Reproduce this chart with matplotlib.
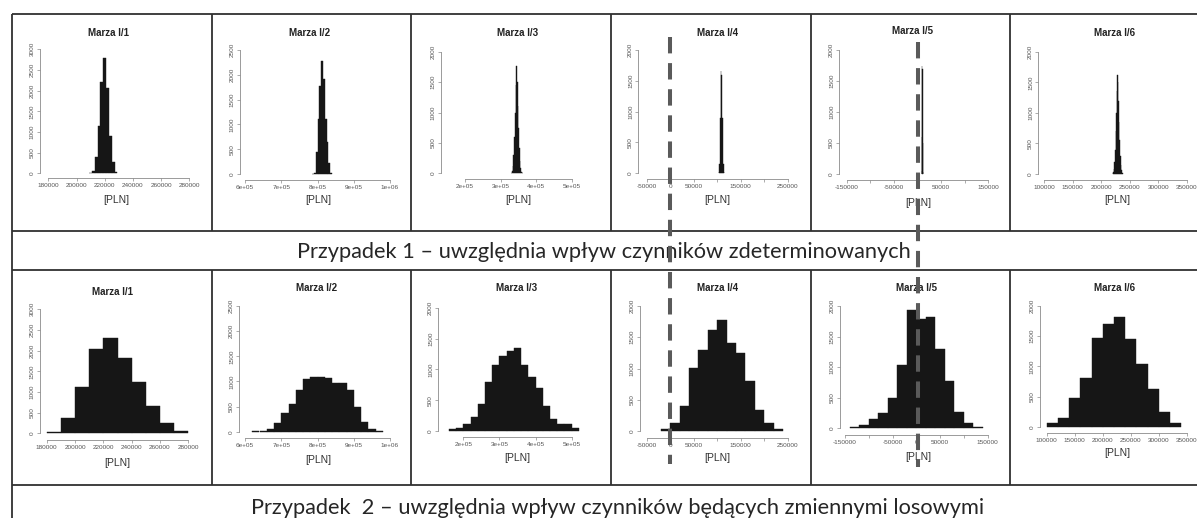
import numpy as np
import matplotlib
matplotlib.use("Agg")
import matplotlib.pyplot as plt

plt.rcParams['font.family'] = ['Liberation Sans', 'DejaVu Sans']
plt.rcParams['lines.scale_dashes'] = False

W, H = 1197, 518

titles = ["Marza I/1", "Marza I/2", "Marza I/3", "Marza I/4", "Marza I/5", "Marza I/6"]
case1_text = "Przypadek 1 – uwzględnia wpływ czynników zdeterminowanych"
case2_text = "Przypadek  2 – uwzględnia wpływ czynników będących zmiennymi losowymi"

# histogram bins (first edge, bin width) and counts
# Przypadek 1
c1_start = [209000, 785000, 330000, 103000, 9000, 220000]
c1_width = [2000, 5000, 2000, 1500, 500, 1000]
c1_m1 = [15, 65, 400, 1150, 2220, 2800, 2060, 900, 270, 25]
c1_m2 = [10, 20, 450, 1110, 1770, 2280, 1910, 1110, 650, 215, 25]
c1_m3 = [10, 40, 120, 300, 600, 1000, 1450, 1765, 1500, 1100, 750, 420, 200, 80, 25, 8]
c1_m4 = [20, 150, 900, 1665, 1600, 900, 150, 20]
c1_m5 = [50, 600, 1750, 1700, 500, 40]
c1_m6 = [10, 30, 80, 200, 400, 700, 1000, 1350, 1620, 1500, 1200, 850, 550, 300, 150, 60, 20, 10]

# Przypadek 2
c2_start = [180000, 620000, 160000, -20000, -140000, 100000]
c2_width = [10000, 20000, 20000, 20000, 20000, 20000]
c2_m1 = [40, 360, 1130, 2030, 2315, 1815, 1250, 660, 260, 65]
c2_m2 = [5, 15, 60, 170, 380, 560, 820, 1050, 1080, 1080, 1060, 960, 960, 820, 500, 200, 50, 10]
c2_m3 = [25, 45, 110, 220, 430, 800, 1070, 1220, 1300, 1345, 1070, 875, 700, 400, 190, 110, 110, 45]
c2_m4 = [25, 125, 400, 1010, 1300, 1620, 1780, 1410, 1250, 800, 340, 130, 25]
c2_m5 = [15, 55, 145, 255, 490, 1040, 1930, 1790, 1820, 1290, 770, 270, 80, 25]
c2_m6 = [65, 150, 475, 800, 1475, 1710, 1815, 1450, 1040, 630, 245, 65]

# axis ticks
xt_m1 = [180000, 200000, 220000, 240000, 260000, 280000]
xl_m1 = ["180000", "200000", "220000", "240000", "260000", "280000"]
xt_m2 = [600000, 700000, 800000, 900000, 1000000]
xl_m2 = ["6e+05", "7e+05", "8e+05", "9e+05", "1e+06"]
xt_m3 = [200000, 300000, 400000, 500000]
xl_m3 = ["2e+05", "3e+05", "4e+05", "5e+05"]
xt_m4 = [-50000, 0, 50000, 100000, 150000, 200000, 250000]
xl_m4 = ["-50000", "0", "50000", "", "150000", "", "250000"]
xt_m5 = [-150000, -100000, -50000, 0, 50000, 100000, 150000]
xl_m5 = ["-150000", "", "-50000", "0", "50000", "", "150000"]
xt_m6 = [100000, 150000, 200000, 250000, 300000, 350000]
xl_m6 = ["100000", "150000", "200000", "250000", "300000", "350000"]
ytop_c1 = [3000, 2500, 2000, 2000, 2000, 2000]
ytop_c2 = [3000, 2500, 2000, 2000, 2000, 2000]

# panel placement in pixels:
# y-axis x, x-axis y, first/last x tick px, y=0 px, top y tick px, title x,y, xlabel x,y
lay1 = [
    (40, 178, 48.3, 189.3, 173.3, 49.3, 108, 33, 116, 200),
    (240, 180, 245, 390, 174, 50, 310, 33, 318, 200),
    (441, 179, 465, 571.7, 173.3, 51.7, 518, 33, 518, 200),
    (638.3, 179, 646.7, 787.7, 173.3, 50, 718, 33, 717, 200),
    (839.3, 180, 846.7, 988.3, 174, 50, 913, 31, 918, 203),
    (1038.3, 180, 1044.3, 1186.7, 174, 51.7, 1115, 33, 1117, 200),
]
lay2 = [
    (40, 440, 46.7, 188.3, 433.3, 309.3, 112, 292, 117, 463),
    (239.3, 438.3, 245, 390, 431.7, 306, 317, 288, 318, 460),
    (438.3, 436.7, 463.3, 571.7, 431, 307.7, 517, 288, 517, 458),
    (640, 437.7, 646.7, 787.7, 431, 306, 718, 288, 717, 458),
    (840, 435, 845, 987.7, 428.3, 306, 917, 288, 918, 457),
    (1040, 433.3, 1046.7, 1186.7, 426.7, 306, 1115, 288, 1117, 453),
]

fig = plt.figure(figsize=(W / 100, H / 100), dpi=100, facecolor="white")

# table frame
bg = fig.add_axes([0, 0, 1, 1], zorder=0)
bg.set_xlim(0, W)
bg.set_ylim(H, 0)
bg.axis("off")
frame = dict(color="#303030", lw=1.3, solid_capstyle="butt")
for yy in [14, 231, 270, 485]:
    bg.plot([12, W], [yy, yy], **frame)
bg.plot([12, 12], [14, H], **frame)
for xx in [212, 411, 611, 811, 1010]:
    bg.plot([xx, xx], [14, 231], **frame)
    bg.plot([xx, xx], [270, 485], **frame)


def panel(lay, start, width, counts, xt, xtl, ytop, title):
    ax_x, ax_y, p0, p1, q0, q1, tx, ty, lx, ly = lay
    sx = (p1 - p0) / (xt[-1] - xt[0])
    sy = (q0 - q1) / ytop
    end = start + width * len(counts)
    right_px = max(p1, p0 + (end - xt[0]) * sx) + 4
    top_px = q1 - 4
    ax = fig.add_axes([ax_x / W, 1 - ax_y / H, (right_px - ax_x) / W, (ax_y - top_px) / H], zorder=1)
    ax.set_xlim(xt[0] - (p0 - ax_x) / sx, xt[0] + (right_px - p0) / sx)
    ax.set_ylim(-(ax_y - q0) / sy, ytop + (q1 - top_px) / sy)
    ax.patch.set_alpha(0)
    lefts = start + width * np.arange(len(counts))
    ax.bar(lefts, counts, width=width, align="edge", color="#161616",
           edgecolor="#161616", linewidth=0.3)
    for s in ["top", "right"]:
        ax.spines[s].set_visible(False)
    for s in ["left", "bottom"]:
        ax.spines[s].set_color("#8a8a8a")
        ax.spines[s].set_linewidth(0.6)
    ax.spines["left"].set_bounds(0, ytop)
    ax.spines["bottom"].set_bounds(xt[0], xt[-1])
    yt = list(range(0, ytop + 1, 500))
    ax.set_xticks(xt, xtl)
    ax.set_yticks(yt, [str(v) for v in yt])
    ax.tick_params(length=2.2, width=0.5, color="#8a8a8a", labelsize=4.6,
                   labelcolor="#555555", pad=1.5)
    for lab in ax.get_yticklabels():
        lab.set_rotation(90)
        lab.set_va("center")
    fig.text(tx / W, 1 - ty / H, title, ha="center", va="center",
             fontsize=7, fontweight="bold", color="#222222")
    fig.text(lx / W, 1 - ly / H, "[PLN]", ha="center", va="center",
             fontsize=7.5, color="#333333")
    return ax


c1_counts = [c1_m1, c1_m2, c1_m3, c1_m4, c1_m5, c1_m6]
c2_counts = [c2_m1, c2_m2, c2_m3, c2_m4, c2_m5, c2_m6]
xts = [xt_m1, xt_m2, xt_m3, xt_m4, xt_m5, xt_m6]
xls = [xl_m1, xl_m2, xl_m3, xl_m4, xl_m5, xl_m6]

axes1 = []
for i in range(6):
    axes1.append(panel(lay1[i], c1_start[i], c1_width[i], c1_counts[i], xts[i], xls[i], ytop_c1[i], titles[i]))
for i in range(6):
    panel(lay2[i], c2_start[i], c2_width[i], c2_counts[i], xts[i], xls[i], ytop_c2[i], titles[i])

# case captions, sized so the first one spans ~615 px like the original
t1 = bg.text(604, 258, case1_text, ha="center", va="baseline", fontsize=15,
             family=["Lato", "DejaVu Sans"], color="#262626")
fig.canvas.draw()
w1 = t1.get_window_extent(fig.canvas.get_renderer()).width
fs = 15 * 615 / w1
t1.set_fontsize(fs)
bg.text(618, 514, case2_text, ha="center", va="baseline", fontsize=fs,
        family=["Lato", "DejaVu Sans"], color="#262626")

# dashed reference lines through x = 0 of Marza I/4 and I/5
fg = fig.add_axes([0, 0, 1, 1], zorder=5)
fg.set_xlim(0, W)
fg.set_ylim(H, 0)
fg.axis("off")
fg.patch.set_alpha(0)
for ax, y_a, y_b in [(axes1[3], 37, 464), (axes1[4], 42, 467)]:
    x0 = ax.transData.transform((0, 0))[0]
    fg.plot([x0, x0], [y_a, y_b], color="#5a5a5a", lw=2.9, dashes=(11.8, 7.0))

fig.savefig("out.png", dpi=100, facecolor="white")
